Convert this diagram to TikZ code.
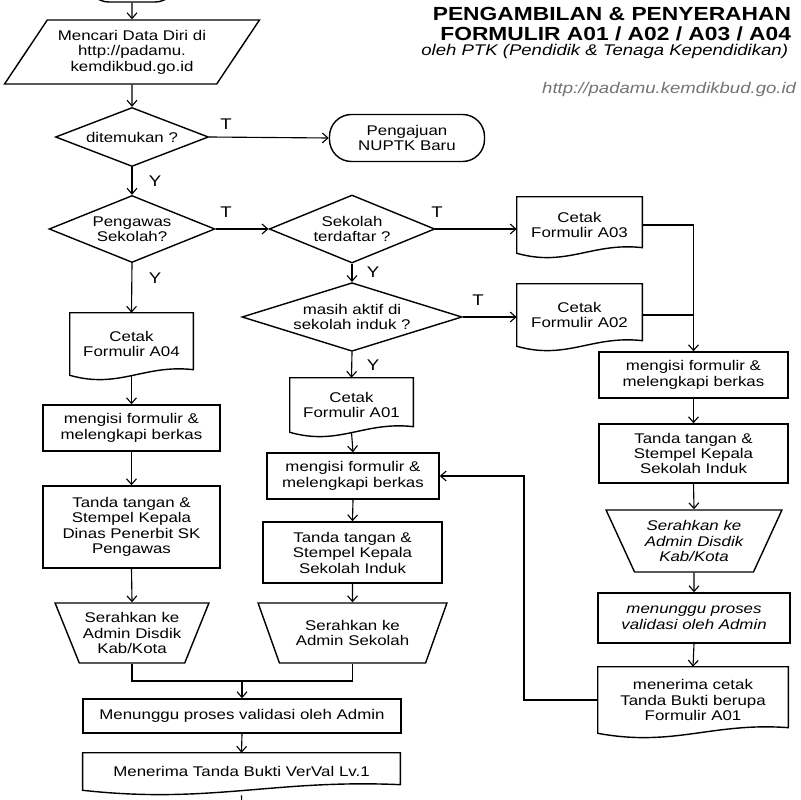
\documentclass[tikz,border=0pt]{standalone}
\usepackage{fontspec}
\setmainfont{Liberation Sans}[FakeStretch=1.2]
\usetikzlibrary{shapes.geometric,arrows.meta,calc}

\begin{document}
\begin{tikzpicture}[x=0.025cm, y=-0.025cm,
    every node/.style={font=\fontsize{10}{11}\selectfont},
    garis/.style={line width=0.8pt},
    panah/.style={garis, -{Straight Barb[length=4pt,width=7pt]}},
    kotak/.style={draw, line width=1pt, align=center, inner sep=2pt},
    proses/.style={kotak, rectangle},
    keputusan/.style={kotak, diamond, aspect=3, inner sep=1pt},
    dokumen/.style={rectangle, align=center, inner sep=2pt},
    serah/.style={kotak, trapezium, trapezium stretches=true},
    ujung/.style={kotak, rectangle, rounded corners=0.55cm},
    cabang/.style={font=\fontsize{11}{12}\selectfont}]
  \useasboundingbox (0,0) rectangle (800,800);

  % judul
  \node[anchor=east, font=\fontsize{13.5}{15}\selectfont\bfseries] (judul1) at (796,14) {PENGAMBILAN \& PENYERAHAN};
  \node[anchor=east, font=\fontsize{13.5}{15}\selectfont\bfseries] (judul2) at (796,34) {FORMULIR A01 / A02 / A03 / A04};
  \node[anchor=east, font=\fontsize{11}{12}\selectfont\itshape] (judul3) at (793,52) {oleh PTK (Pendidik \& Tenaga Kependidikan)};
  \node[anchor=east, font=\fontsize{11}{12}\selectfont\itshape, text=black!55] (situs) at (801,90) {http://padamu.kemdikbud.go.id};

  % pencarian dan keputusan
  \node[ujung, minimum width=2.25cm, minimum height=0.85cm] (mulai) at (132,-15) {};
  \node[kotak, trapezium, trapezium stretches=true, trapezium left angle=52, trapezium right angle=128,
        minimum width=6.375cm, minimum height=1.6cm] (cari) at (132,52) {Mencari Data Diri di\\http://padamu.\\kemdikbud.go.id};
  \node[keputusan, minimum width=3.825cm, minimum height=1.475cm] (temu) at (132,137) {ditemukan ?};
  \node[ujung, minimum width=3.875cm, minimum height=1.175cm] (nuptk) at (407,138) {Pengajuan\\NUPTK Baru};
  \node[keputusan, minimum width=3.875cm, minimum height=1.675cm] (pengawas) at (132,229) {Pengawas\\Sekolah?};
  \node[keputusan, minimum width=3.75cm, minimum height=1.7cm] (terdaftar) at (352,229) {Sekolah\\terdaftar ?};
  \node[keputusan, minimum width=5.5cm, minimum height=1.7cm] (aktif) at (352,317) {masih aktif di\\sekolah induk ?};

  % cetak formulir
  \node[dokumen, minimum width=3.075cm, minimum height=1.55cm] (a04) at (131.5,344) {Cetak\\Formulir A04};
  \node[dokumen, minimum width=3.125cm, minimum height=1.4cm] (a03) at (579.5,225) {Cetak\\Formulir A03};
  \node[dokumen, minimum width=3.125cm, minimum height=1.55cm] (a02) at (579.5,315) {Cetak\\Formulir A02};
  \node[dokumen, minimum width=3.075cm, minimum height=1.35cm] (a01) at (351.5,405) {Cetak\\Formulir A01};

  % kolom kiri
  \node[proses, minimum width=4.425cm, minimum height=1.15cm] (isi1) at (131.5,428) {mengisi formulir \&\\melengkapi berkas};
  \node[proses, minimum width=4.425cm, minimum height=2.05cm] (ttd1) at (131.5,527) {Tanda tangan \&\\Stempel Kepala\\Dinas Penerbit SK\\Pengawas};
  \node[serah, trapezium left angle=117, trapezium right angle=117, minimum width=3.85cm, minimum height=1.5cm] (serah1) at (132,633) {Serahkan ke\\Admin Disdik\\Kab/Kota};

  % kolom tengah
  \node[proses, minimum width=4.3cm, minimum height=1.15cm] (isi2) at (353,476) {mengisi formulir \&\\melengkapi berkas};
  \node[proses, minimum width=4.475cm, minimum height=1.525cm] (ttd2) at (352.5,552.5) {Tanda tangan \&\\Stempel Kepala\\Sekolah Induk};
  \node[serah, trapezium left angle=119, trapezium right angle=119, minimum width=4.725cm, minimum height=1.5cm] (serah2) at (352.5,633) {Serahkan ke\\Admin Sekolah};

  % bawah
  \node[proses, minimum width=7.95cm, minimum height=0.85cm] (tunggu) at (242,716) {Menunggu proses validasi oleh Admin};
  \node[dokumen, minimum width=7.925cm, minimum height=0.925cm] (bukti) at (241.5,771.5) {Menerima Tanda Bukti VerVal Lv.1};

  % kolom kanan
  \node[proses, minimum width=4.725cm, minimum height=1.15cm] (isi3) at (693.5,375) {mengisi formulir \&\\melengkapi berkas};
  \node[proses, minimum width=4.725cm, minimum height=1.475cm] (ttd3) at (693.5,453.5) {Tanda tangan \&\\Stempel Kepala\\Sekolah Induk};
  \node[serah, trapezium left angle=118, trapezium right angle=118, minimum width=4.4cm, minimum height=1.55cm,
        font=\fontsize{10}{11}\selectfont\itshape] (serah3) at (694,541) {Serahkan ke\\Admin Disdik\\Kab/Kota};
  \node[proses, minimum width=4.8cm, minimum height=1.25cm, font=\fontsize{10}{11}\selectfont\itshape] (tunggu3) at (694,618) {menunggu proses\\validasi oleh Admin};
  \node[dokumen, minimum width=4.75cm, minimum height=1.65cm] (terima) at (693,700) {menerima cetak\\Tanda Bukti berupa\\Formulir A01};

  % garis bantu
  \coordinate (gabung) at (242,681);
  \coordinate (balik) at (524,0);
  \coordinate (lanjut) at (242,815);

  % bentuk dokumen
  \foreach \d in {a04,a03,a02,a01,bukti,terima}
    \draw[line width=1pt] (\d.north west) -- (\d.north east) -- ([yshift=4pt]\d.south east)
      .. controls ($(\d.south west)!0.6!(\d.south east)+(0,8pt)$) and ($(\d.south west)!0.4!(\d.south east)+(0,-10pt)$) .. (\d.south west) -- cycle;

  % panah
  \draw[panah] (mulai.south) -- (cari.north);
  \draw[panah] (cari.south) -- (temu.north);
  \draw[panah] (temu.east) -- (nuptk.west);
  \draw[panah] (pengawas.east) -- (terdaftar.west);
  \draw[panah] (terdaftar.east) -- (terdaftar.east -| a03.west);
  \draw[panah] (aktif.east) -- (aktif.east -| a02.west);
  \foreach \a/\b in {temu/pengawas, pengawas/a04, terdaftar/aktif, aktif/a01, a04/isi1, isi1/ttd1, ttd1/serah1,
                     a01/isi2, isi2/ttd2, ttd2/serah2, tunggu/bukti, isi3/ttd3, ttd3/serah3, serah3/tunggu3, tunggu3/terima}
    \draw[panah] (\a.south) -- (\b.north);
  \draw[garis] (serah1.south) |- (gabung) -| (serah2.south);
  \draw[panah] (gabung) -- (tunggu.north);
  \draw[panah] (bukti.south) ++(0,5) -- (lanjut);
  \draw[panah] (a03.east) -| (isi3.north);
  \draw[garis] (a02.east) -- (a02.east -| isi3.north);
  \draw[panah] (terima.west) -- (terima.west -| balik) |- (isi2.east);

  % label cabang
  \node[cabang] (t1) at (226,124) {T};
  \node[cabang] (y1) at (155,181) {Y};
  \node[cabang] (t2) at (226,212) {T};
  \node[cabang] (y2) at (155,278) {Y};
  \node[cabang] (t3) at (437,212) {T};
  \node[cabang] (y3) at (373,272) {Y};
  \node[cabang] (t4) at (478,300) {T};
  \node[cabang] (y4) at (373,365) {Y};
\end{tikzpicture}
\end{document}
